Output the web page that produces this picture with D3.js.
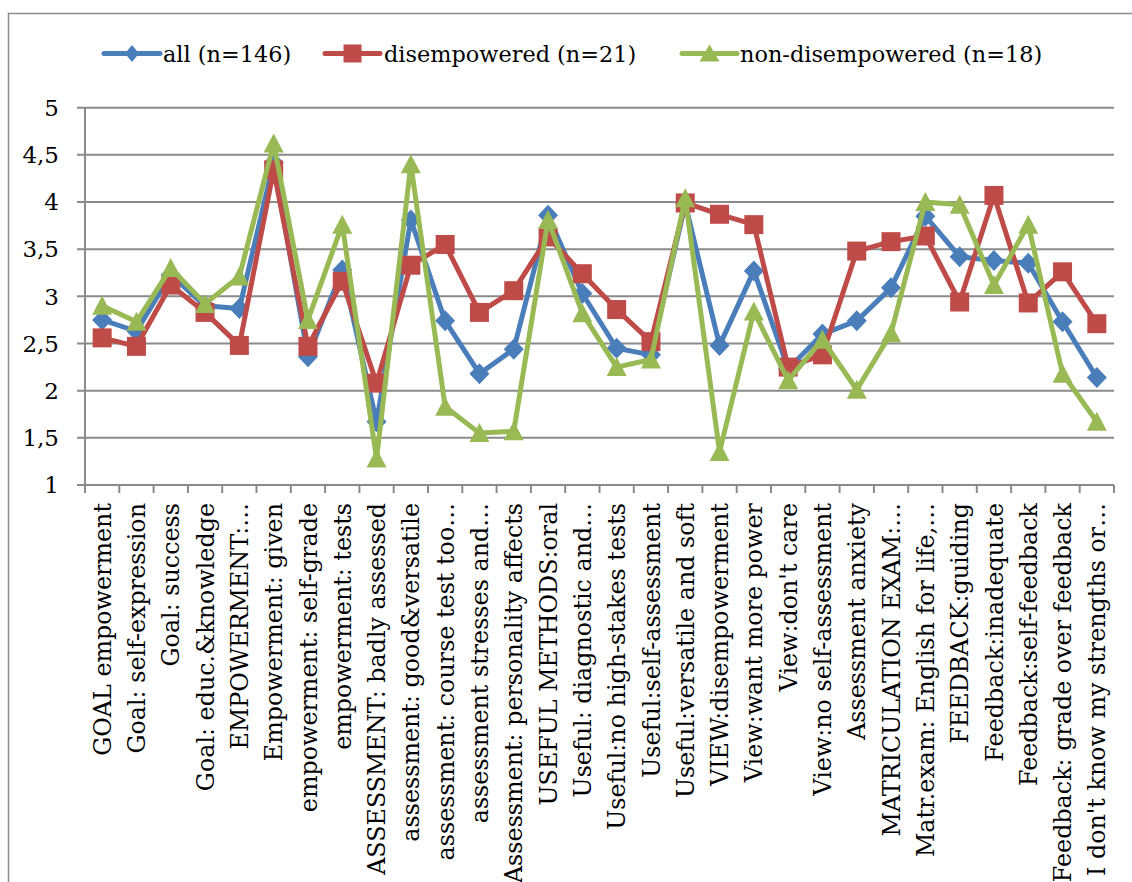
<!DOCTYPE html>
<html>
<head>
<meta charset="utf-8">
<script src="https://cdn.jsdelivr.net/npm/d3@7"></script>
<style>
  html, body { margin: 0; padding: 0; background: #fff; }
  svg { display: block; }
  text { font-family: "DejaVu Serif", serif; fill: #000; }
</style>
</head>
<body>
<svg id="chart" width="1132" height="882"></svg>
<script>
const categories = [
  "GOAL empowerment",
  "Goal: self-expression",
  "Goal: success",
  "Goal: educ.&knowledge",
  "EMPOWERMENT:…",
  "Empowerment: given",
  "empowerment: self-grade",
  "empowerment: tests",
  "ASSESSMENT: badly assessed",
  "assessment: good&versatile",
  "assessment: course test too…",
  "assessment stresses and…",
  "Assessment: personality affects",
  "USEFUL METHODS:oral",
  "Useful: diagnostic and…",
  "Useful:no high-stakes tests",
  "Useful:self-assessment",
  "Useful:versatile and soft",
  "VIEW:disempowerment",
  "View:want more power",
  "View:don't care",
  "View:no self-assessment",
  "Assessment anxiety",
  "MATRICULATION EXAM:…",
  "Matr.exam: English for life,…",
  "FEEDBACK:guiding",
  "Feedback:inadequate",
  "Feedback:self-feedback",
  "Feedback: grade over feedback",
  "I don't know my strengths or…"
];

const seriesNames = ["all (n=146)", "disempowered (n=21)", "non-disempowered (n=18)"];

const allValues = [2.75, 2.63, 3.23, 2.90, 2.87, 4.42, 2.36, 3.28, 1.67, 3.81,
                   2.74, 2.18, 2.44, 3.86, 3.03, 2.45, 2.38, 3.98, 2.48, 3.27,
                   2.23, 2.60, 2.74, 3.09, 3.85, 3.42, 3.38, 3.35, 2.73, 2.14];

const disempoweredValues = [2.56, 2.47, 3.12, 2.83, 2.48, 4.34, 2.47, 3.16, 2.08, 3.33,
                            3.55, 2.83, 3.06, 3.63, 3.24, 2.86, 2.52, 3.99, 3.87, 3.76,
                            2.25, 2.38, 3.48, 3.58, 3.64, 2.94, 4.07, 2.93, 3.26, 2.71];

const nonDisempoweredValues = [2.90, 2.73, 3.30, 2.92, 3.21, 4.62, 2.75, 3.76, 1.28, 4.40,
                               1.83, 1.55, 1.57, 3.81, 2.82, 2.25, 2.33, 4.04, 1.35, 2.84,
                               2.11, 2.54, 2.01, 2.61, 4.00, 3.97, 3.12, 3.76, 2.18, 1.67];

const yTicks = [1, 1.5, 2, 2.5, 3, 3.5, 4, 4.5, 5];

const colors = ["#4A7EBB", "#BE4B48", "#98B954"];
const markerPaths = [
  "M0,-10.5L10,0L0,10.5L-10,0Z",
  "M-9.5,-9.5h19v19h-19Z",
  "M0,-10L10,9L-10,9Z"
];
const legendMarkerPaths = [
  "M0,-8.5L7,0L0,8.5L-7,0Z",
  "M-9,-9h18v18h-18Z",
  "M0,-9L10,8L-10,8Z"
];

const series = seriesNames.map((name, i) => ({
  name,
  values: [allValues, disempoweredValues, nonDisempoweredValues][i],
  color: colors[i],
  marker: markerPaths[i],
  legendMarker: legendMarkerPaths[i]
}));

const svg = d3.select("#chart");
const W = 1132, H = 882;

// outer frame
svg.append("path")
  .attr("d", `M8.5,${H + 2}V13.5H${W + 2}`)
  .attr("fill", "none")
  .attr("stroke", "#8c8c8c")
  .attr("stroke-width", 1.5);

const plotLeft = 85, plotRight = 1114, plotTop = 107.7, plotBottom = 485;

const x = d3.scaleBand().domain(categories).range([plotLeft, plotRight]).padding(0);
const y = d3.scaleLinear().domain([1, 5]).range([plotBottom, plotTop]);

// gridlines
svg.append("g")
  .selectAll("line")
  .data(yTicks)
  .join("line")
  .attr("x1", plotLeft - 8).attr("x2", plotRight)
  .attr("y1", d => y(d)).attr("y2", d => y(d))
  .attr("stroke", "#8a8a8a")
  .attr("stroke-width", 2);

// y axis line
svg.append("line")
  .attr("x1", plotLeft).attr("x2", plotLeft)
  .attr("y1", y(5)).attr("y2", y(1) + 1)
  .attr("stroke", "#8a8a8a").attr("stroke-width", 2);

// y labels
svg.append("g")
  .selectAll("text")
  .data(yTicks)
  .join("text")
  .attr("x", 59)
  .attr("y", d => y(d))
  .attr("dy", "0.36em")
  .attr("text-anchor", "end")
  .style("font-size", "23px")
  .text(d => d3.format("")(d).replace(".", ","));

// x ticks at band boundaries
const boundaries = categories.map(c => x(c)).concat([plotRight]);
svg.append("g")
  .selectAll("line")
  .data(boundaries)
  .join("line")
  .attr("x1", d => d).attr("x2", d => d)
  .attr("y1", plotBottom).attr("y2", plotBottom + 8)
  .attr("stroke", "#8a8a8a").attr("stroke-width", 2);

// x labels
svg.append("g")
  .selectAll("text")
  .data(categories)
  .join("text")
  .attr("transform", d => `translate(${x(d) + x.bandwidth() / 2},503) rotate(-90)`)
  .attr("dy", "0.36em")
  .attr("text-anchor", "end")
  .style("font-size", "23.8px")
  .text(d => d);

// series
const line = d3.line()
  .x((d, i) => x(categories[i]) + x.bandwidth() / 2)
  .y(d => y(d));

series.forEach(s => {
  const g = svg.append("g");
  g.append("path")
    .attr("d", line(s.values))
    .attr("fill", "none")
    .attr("stroke", s.color)
    .attr("stroke-width", 5)
    .attr("stroke-linejoin", "round")
    .attr("stroke-linecap", "round");
  g.selectAll("path.m")
    .data(s.values)
    .join("path")
    .attr("class", "m")
    .attr("d", s.marker)
    .attr("transform", (d, i) => `translate(${x(categories[i]) + x.bandwidth() / 2},${y(d)})`)
    .attr("fill", s.color);
});

// legend
const legendY = 53.5;
const legendItems = [
  { x1: 104, x2: 160, tx: 163 },
  { x1: 325, x2: 380, tx: 384 },
  { x1: 682, x2: 737, tx: 740 }
];
series.forEach((s, i) => {
  const L = legendItems[i];
  const g = svg.append("g");
  g.append("line")
    .attr("x1", L.x1).attr("x2", L.x2)
    .attr("y1", legendY).attr("y2", legendY)
    .attr("stroke", s.color).attr("stroke-width", 5)
    .attr("stroke-linecap", "round");
  g.append("path")
    .attr("d", s.legendMarker)
    .attr("transform", `translate(${(L.x1 + L.x2) / 2},${legendY})`)
    .attr("fill", s.color);
  g.append("text")
    .attr("x", L.tx)
    .attr("y", 61.5)
    .style("font-size", "22.4px")
    .text(s.name);
});
</script>
</body>
</html>
